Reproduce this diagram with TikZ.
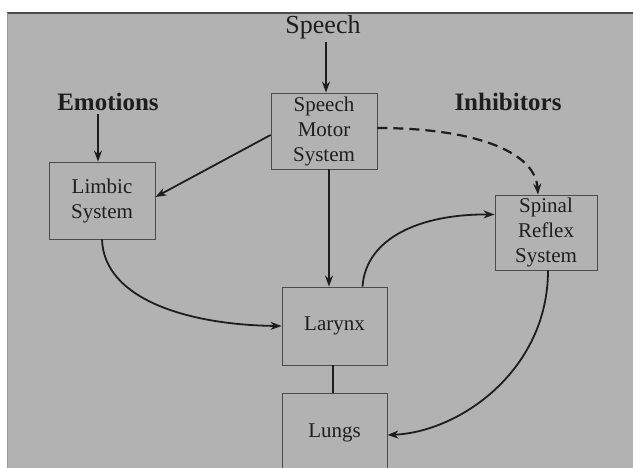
\documentclass[tikz,border=0pt]{standalone}
\usepackage{fontspec}
\setmainfont{Liberation Serif}
\usetikzlibrary{arrows.meta}
\definecolor{panel}{RGB}{178,178,178}
\definecolor{ink}{RGB}{30,30,30}
\begin{document}
\begin{tikzpicture}[>={Stealth[length=11pt,width=8pt]}, x=1pt, y=-1pt,
    block/.style={draw=ink!80, line width=0.9pt, inner sep=0pt, align=center,
                  text=ink, font=\fontsize{21}{25}\selectfont},
    tag/.style={text=ink, font=\bfseries\fontsize{25}{28}\selectfont},
    link/.style={->, draw=ink, line width=1.8pt}]
            % Page and grey panel
            \useasboundingbox (0,0) rectangle (633,468);
            \clip (0,0) rectangle (633,468);
            \fill[white] (0,0) rectangle (633,468);
            \fill[panel] (7,13) rectangle (633,468);
            \draw[ink!80, line width=1.3pt] (7,13) -- (633,13);
            \draw[ink!45, line width=0.6pt] (7,13) -- (7,468);
            % Inputs
            \node[text=ink, font=\fontsize{26}{28}\selectfont] (speech) at (323,27) {Speech};
            \node[tag] (emotions) at (108,102) {Emotions};
            \node[tag] (inhibitors) at (508,102) {Inhibitors};
            % Systems
            \node[block, minimum width=106pt, minimum height=76pt] (motor) at (324,131) {Speech\\Motor\\System};
            \node[block, minimum width=106pt, minimum height=77pt] (limbic) at (102,200.5) {Limbic\\System};
            \node[block, minimum width=102pt, minimum height=75pt] (spinal) at (546,232.5) {Spinal\\Reflex\\System};
            \node[block, minimum width=105pt, minimum height=78pt] (larynx) at (334.5,326) {Larynx};
            \node[block, minimum width=105pt, minimum height=80pt] (lungs) at (334.5,433) {Lungs};
            % Straight arrows
            \draw[link] ([xshift=3pt]speech.south) -- ([xshift=3pt]speech.south |- motor.north);
            \draw[link] ([xshift=-10pt]emotions.south) -- ([xshift=-10pt]emotions.south |- limbic.north);
            \draw[link] ([xshift=5pt]motor.south) -- ([xshift=5pt]motor.south |- larynx.north);
            \draw[link] ([yshift=-4pt]motor.west) -- ([yshift=3.5pt]limbic.east);
            \draw[draw=ink, line width=1.8pt] ([xshift=-1.5pt]larynx.south) -- ([xshift=-1.5pt]larynx.south |- lungs.north);
            % Curved arrows
            \draw[link] (limbic.south) .. controls (104,300) and (190,325) .. (larynx.west);
            \draw[link] ([xshift=28pt]larynx.north) .. controls (366,238) and (420,214) .. ([yshift=18pt]spinal.west);
            \draw[link] ([xshift=2pt]spinal.south) .. controls (548,370) and (460,432) .. ([yshift=-2pt]lungs.east);
            \draw[link, line width=2.2pt, dash pattern=on 10pt off 6pt] ([yshift=3pt]motor.east) .. controls (470,128) and (535,150) .. ([xshift=-8pt]spinal.north);
        \end{tikzpicture}
\end{document}
